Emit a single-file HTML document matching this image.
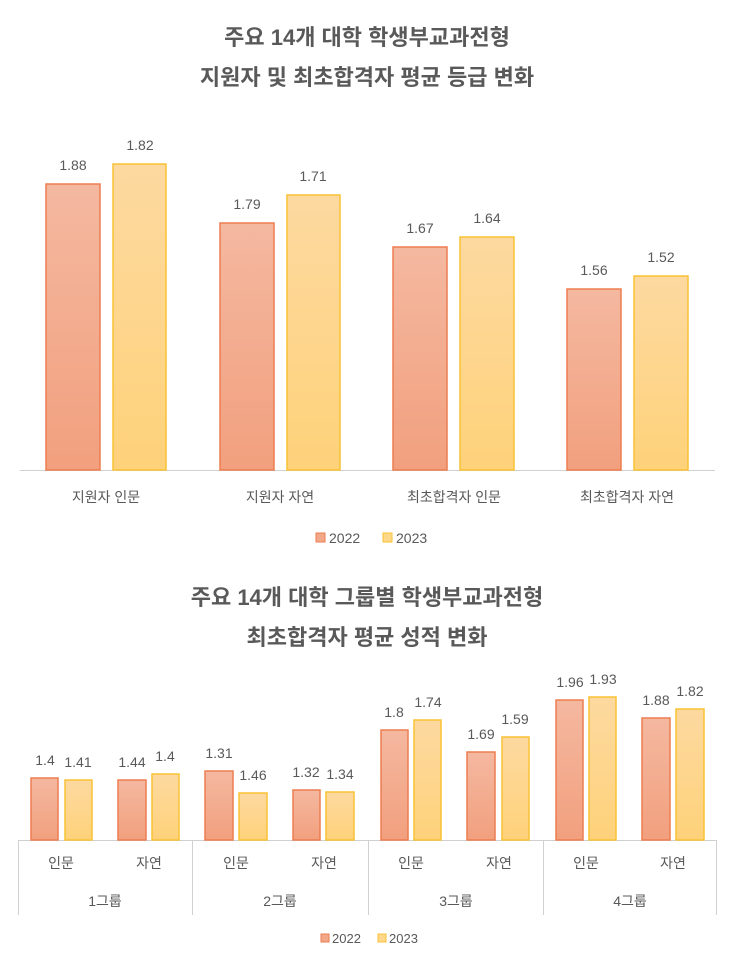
<!DOCTYPE html><html><head><meta charset="utf-8"><style>
body{margin:0;background:#fff;}
text{font-family:"Liberation Sans","Noto Sans CJK KR",sans-serif;fill:#595959;}
</style></head><body>
<svg width="735" height="962" viewBox="0 0 735 962" xmlns="http://www.w3.org/2000/svg">
<defs>
<linearGradient id="o" x1="0" y1="0" x2="0" y2="1"><stop offset="0" stop-color="#f4b8a0"/><stop offset="1" stop-color="#f2a07e"/></linearGradient>
<linearGradient id="y" x1="0" y1="0" x2="0" y2="1"><stop offset="0" stop-color="#fdd9a0"/><stop offset="1" stop-color="#fed27a"/></linearGradient>
</defs>
<g font-weight="bold" font-size="22" text-anchor="middle">
<text x="367" y="45">주요 14개 대학 학생부교과전형</text>
<text x="367" y="85">지원자 및 최초합격자 평균 등급 변화</text>
<text x="367" y="605">주요 14개 대학 그룹별 학생부교과전형</text>
<text x="367" y="645">최초합격자 평균 성적 변화</text>
</g>
<line x1="20" y1="470.5" x2="715" y2="470.5" stroke="#d0d0d0"/>
<g stroke-width="1.5">
<rect x="46" y="184" width="54" height="286" fill="url(#o)" stroke="#ed7d51"/>
<rect x="113" y="164" width="53" height="306" fill="url(#y)" stroke="#f9c234"/>
<rect x="220" y="223" width="54" height="247" fill="url(#o)" stroke="#ed7d51"/>
<rect x="287" y="195" width="53" height="275" fill="url(#y)" stroke="#f9c234"/>
<rect x="393" y="247" width="54" height="223" fill="url(#o)" stroke="#ed7d51"/>
<rect x="460" y="237" width="54" height="233" fill="url(#y)" stroke="#f9c234"/>
<rect x="567" y="289" width="54" height="181" fill="url(#o)" stroke="#ed7d51"/>
<rect x="634" y="276" width="54" height="194" fill="url(#y)" stroke="#f9c234"/>
</g>
<g font-size="14" text-anchor="middle">
<text x="73" y="170">1.88</text><text x="140" y="150">1.82</text>
<text x="247" y="209">1.79</text><text x="313" y="181">1.71</text>
<text x="420" y="233">1.67</text><text x="487" y="223">1.64</text>
<text x="594" y="275">1.56</text><text x="661" y="262">1.52</text>
<text x="106" y="502">지원자 인문</text><text x="280" y="502">지원자 자연</text>
<text x="454" y="502">최초합격자 인문</text><text x="627" y="502">최초합격자 자연</text>
</g>
<g font-size="14"><text x="329" y="543">2022</text><text x="396" y="543">2023</text></g>
<rect x="316" y="533" width="9" height="9" fill="#f2a788" stroke="#ed7d51"/>
<rect x="383" y="533" width="9" height="9" fill="#fed88a" stroke="#f9c234"/>

<line x1="18" y1="840.5" x2="717" y2="840.5" stroke="#d0d0d0"/>
<g stroke="#d0d0d0"><line x1="18.5" y1="840" x2="18.5" y2="915"/><line x1="192.5" y1="840" x2="192.5" y2="915"/><line x1="368.5" y1="840" x2="368.5" y2="915"/><line x1="543.5" y1="840" x2="543.5" y2="915"/><line x1="716.5" y1="840" x2="716.5" y2="915"/></g>
<g stroke-width="1.5">
<rect x="31" y="778" width="27" height="62" fill="url(#o)" stroke="#ed7d51"/>
<rect x="65" y="780" width="27" height="60" fill="url(#y)" stroke="#f9c234"/>
<rect x="118" y="780" width="28" height="60" fill="url(#o)" stroke="#ed7d51"/>
<rect x="152" y="774" width="27" height="66" fill="url(#y)" stroke="#f9c234"/>
<rect x="205" y="771" width="28" height="69" fill="url(#o)" stroke="#ed7d51"/>
<rect x="239" y="793" width="28" height="47" fill="url(#y)" stroke="#f9c234"/>
<rect x="293" y="790" width="27" height="50" fill="url(#o)" stroke="#ed7d51"/>
<rect x="326" y="792" width="28" height="48" fill="url(#y)" stroke="#f9c234"/>
<rect x="381" y="730" width="27" height="110" fill="url(#o)" stroke="#ed7d51"/>
<rect x="414" y="720" width="27" height="120" fill="url(#y)" stroke="#f9c234"/>
<rect x="467" y="752" width="28" height="88" fill="url(#o)" stroke="#ed7d51"/>
<rect x="502" y="737" width="27" height="103" fill="url(#y)" stroke="#f9c234"/>
<rect x="556" y="700" width="27" height="140" fill="url(#o)" stroke="#ed7d51"/>
<rect x="589" y="697" width="27" height="143" fill="url(#y)" stroke="#f9c234"/>
<rect x="642" y="718" width="28" height="122" fill="url(#o)" stroke="#ed7d51"/>
<rect x="676" y="709" width="28" height="131" fill="url(#y)" stroke="#f9c234"/>
</g>
<g font-size="14" text-anchor="middle">
<text x="45" y="765">1.4</text><text x="78" y="767">1.41</text>
<text x="132" y="767">1.44</text><text x="165" y="761">1.4</text>
<text x="219" y="758">1.31</text><text x="253" y="780">1.46</text>
<text x="306" y="777">1.32</text><text x="340" y="779">1.34</text>
<text x="394" y="717">1.8</text><text x="428" y="707">1.74</text>
<text x="481" y="739">1.69</text><text x="515" y="724">1.59</text>
<text x="570" y="687">1.96</text><text x="603" y="684">1.93</text>
<text x="656" y="705">1.88</text><text x="690" y="696">1.82</text>
<text x="61" y="868">인문</text><text x="149" y="868">자연</text>
<text x="236" y="868">인문</text><text x="324" y="868">자연</text>
<text x="411" y="868">인문</text><text x="499" y="868">자연</text>
<text x="586" y="868">인문</text><text x="673" y="868">자연</text>
<text x="105" y="906">1그룹</text><text x="280" y="906">2그룹</text>
<text x="456" y="906">3그룹</text><text x="630" y="906">4그룹</text>
</g>
<g font-size="13"><text x="332" y="943">2022</text><text x="389" y="943">2023</text></g>
<rect x="321" y="934" width="8" height="8" fill="#f2a788" stroke="#ed7d51"/>
<rect x="378" y="934" width="8" height="8" fill="#fed88a" stroke="#f9c234"/>
</svg>
</body></html>
